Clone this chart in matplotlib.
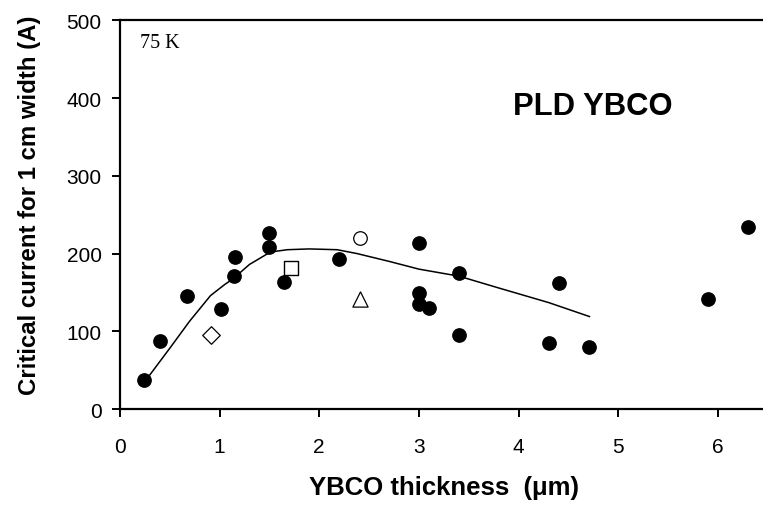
import matplotlib
matplotlib.use("Agg")
import matplotlib.pyplot as plt
import numpy as np

# -- data --
# filled circles: PLD YBCO samples
thk = [0.24, 0.40, 0.67, 1.01, 1.16, 1.15, 1.50, 1.50, 1.65, 2.20,
       3.00, 3.00, 3.00, 3.10, 3.40, 3.40, 4.40, 4.30, 4.71, 5.90, 6.30]
ic = [38, 88, 145, 129, 196, 171, 226, 209, 164, 193,
      213, 149, 135, 130, 175, 95, 162, 85, 80, 142, 234]

# open symbols
diamond_x, diamond_y = [0.91], [95]
square_x, square_y = [1.72], [181]
circle_x, circle_y = [2.41], [220]
triangle_x, triangle_y = [2.41], [142]

# guide curve
curve_x = [0.29, 0.50, 0.70, 0.91, 1.05, 1.14, 1.30, 1.51, 1.68, 1.90,
           2.18, 2.38, 2.70, 3.00, 3.40, 3.82, 4.30, 4.71]
curve_y = [42, 78, 113, 146, 160, 168, 186, 202, 205, 206,
           205, 200, 190, 180, 171, 155, 137, 119]

fig = plt.figure(figsize=(7.63, 5.10), dpi=100)
ax = fig.add_axes([0.157, 0.196, 0.843, 0.762])

ax.plot(curve_x, curve_y, color="black", lw=1.1, zorder=2)
ax.scatter(thk, ic, s=92, color="black", zorder=3)
ax.scatter(diamond_x, diamond_y, s=80, marker="D", facecolor="white",
           edgecolor="black", linewidth=0.9, zorder=3)
ax.scatter(square_x, square_y, s=110, marker="s", facecolor="white",
           edgecolor="black", linewidth=1.0, zorder=3)
ax.scatter(circle_x, circle_y, s=95, marker="o", facecolor="white",
           edgecolor="black", linewidth=0.9, zorder=3)
ax.scatter(triangle_x, triangle_y, s=120, marker="^", facecolor="white",
           edgecolor="black", linewidth=0.9, zorder=3)

ax.set_xlim(0, 6.45)
ax.set_ylim(0, 500)
ax.set_xticks(range(0, 7))
ax.set_yticks(range(0, 501, 100))

for side in ["left", "bottom", "top"]:
    ax.spines[side].set_linewidth(1.6)
ax.spines["right"].set_visible(False)
ax.tick_params(direction="out", length=6, width=1.4, labelsize=15)
ax.tick_params(axis="x", pad=14)
ax.tick_params(axis="y", pad=7)

for lab in ax.get_xticklabels() + ax.get_yticklabels():
    lab.set_fontfamily("Liberation Sans")

ax.set_xlabel("YBCO thickness  (\u03bcm)", fontsize=18.5, fontweight="bold",
              family="Liberation Sans")
ax.set_ylabel("Critical current for 1 cm width (A)", fontsize=17.3,
              fontweight="bold", family="Liberation Sans")
ax.xaxis.set_label_coords(0.504, -0.170)
ax.yaxis.set_label_coords(-0.123, 0.528)

ax.text(0.2, 472, "75 K", fontsize=14.5, family="Liberation Serif",
        va="center", ha="left")
ax.text(3.94, 390, "PLD YBCO", fontsize=22.3, fontweight="bold",
        family="Liberation Sans", va="center", ha="left")

fig.savefig("out.png", dpi=100)
